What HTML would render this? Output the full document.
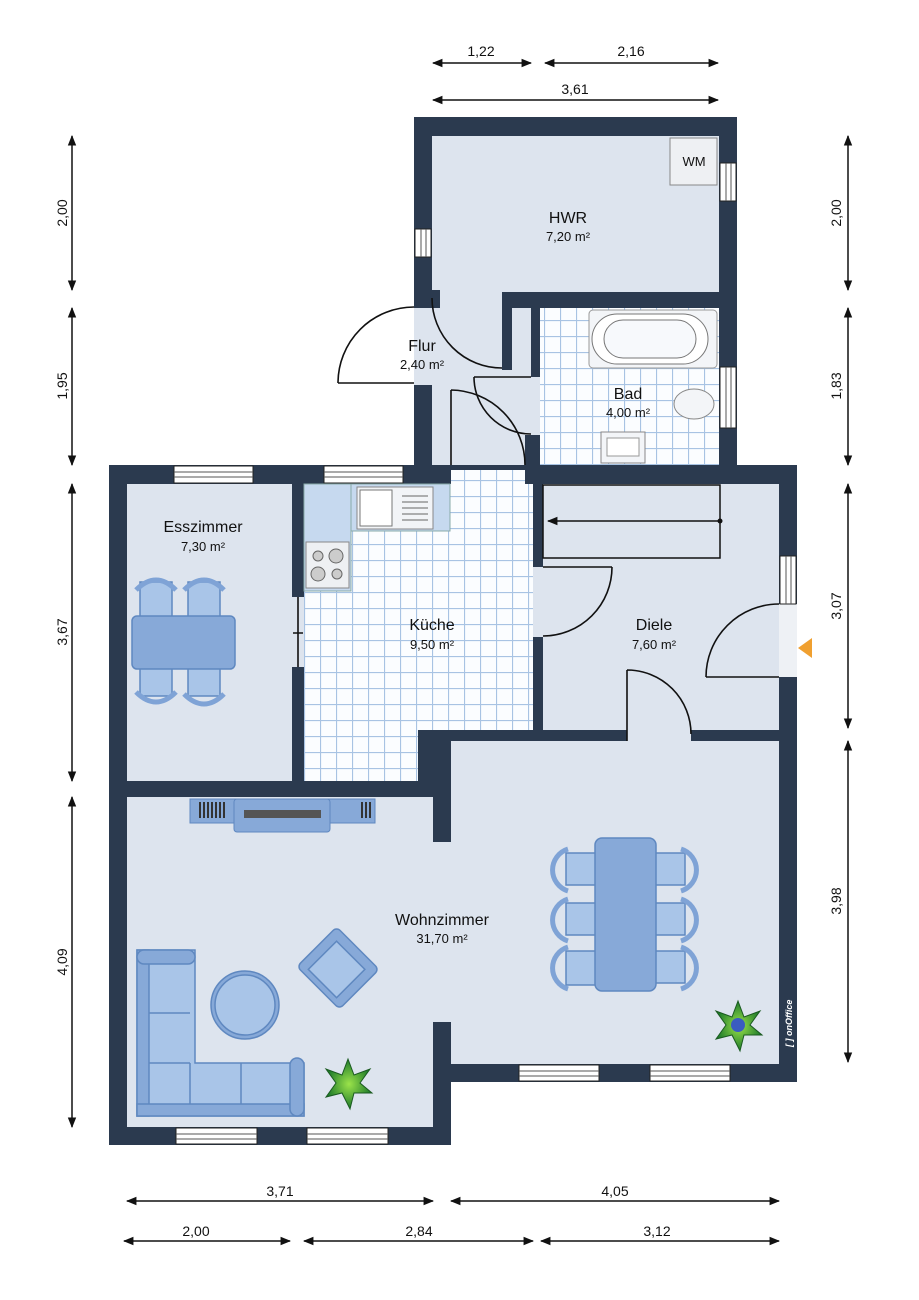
<!DOCTYPE html>
<html><head><meta charset="utf-8"><style>
html,body{margin:0;padding:0;background:#fff}
svg{display:block}
text{font-family:"Liberation Sans",sans-serif;fill:#111}
</style></head><body>
<svg width="919" height="1300" viewBox="0 0 919 1300" xmlns="http://www.w3.org/2000/svg">
<defs>
<pattern id="tile" width="16" height="16" patternUnits="userSpaceOnUse">
<rect width="16" height="16" fill="#fbfdff"/>
<path d="M0 0.5H16M0.5 0V16" stroke="#a8c3e3" stroke-width="1.2"/>
</pattern>
<marker id="ar" viewBox="0 0 10 10" refX="9" refY="5" markerWidth="7" markerHeight="7" orient="auto-start-reverse"><path d="M0 1L10 5L0 9z" fill="#111"/></marker>
<radialGradient id="plant" cx="50%" cy="50%" r="50%"><stop offset="0" stop-color="#9be34a"/><stop offset="1" stop-color="#1d7a2a"/></radialGradient>
</defs>

<path d="M414 117H737V465H797V1082H451V1145H109V465H414Z" fill="#2b3a4f"/>

<g fill="#dde4ee">
<rect x="432" y="136" width="287" height="156"/>
<rect x="432" y="290" width="99" height="175"/>
<rect x="414" y="308" width="20" height="77"/>
<rect x="127" y="484" width="165" height="297"/>
<rect x="543" y="484" width="236" height="246"/>
<rect x="533" y="567" width="10" height="70"/>
<rect x="779" y="604" width="18" height="73" fill="#eef1f5"/>
<rect x="127" y="797" width="306" height="330"/>
<rect x="451" y="741" width="328" height="323"/>
<rect x="433" y="842" width="18" height="180"/>
<rect x="627" y="728" width="64" height="14"/>
<rect x="292" y="597" width="12" height="70"/>
</g>
<rect x="414" y="290" width="26" height="18" fill="#2b3a4f"/>
<rect x="502" y="292" width="10" height="78" fill="#2b3a4f"/>
<rect x="502" y="292" width="235" height="16" fill="#2b3a4f"/>
<rect x="531" y="308" width="9" height="69" fill="#2b3a4f"/>
<rect x="525" y="435" width="15" height="30" fill="#2b3a4f"/>
<rect x="414" y="465" width="37" height="19" fill="#2b3a4f"/>
<rect x="525" y="465" width="18" height="19" fill="#2b3a4f"/>

<rect x="540" y="308" width="179" height="157" fill="url(#tile)"/>
<rect x="531" y="377" width="9" height="58" fill="#dde4ee"/>
<rect x="304" y="484" width="114" height="297" fill="url(#tile)"/>
<rect x="418" y="484" width="115" height="246" fill="url(#tile)"/>
<rect x="451" y="470" width="74" height="14" fill="url(#tile)"/>

<g fill="#fff" stroke="#222" stroke-width="1">
<rect x="174" y="466" width="79" height="17"/><rect x="324" y="466" width="79" height="17"/>
<rect x="176" y="1128" width="81" height="16"/><rect x="307" y="1128" width="81" height="16"/>
<rect x="519" y="1065" width="80" height="16"/><rect x="650" y="1065" width="80" height="16"/>
<rect x="415" y="229" width="16" height="28"/>
<rect x="720" y="163" width="16" height="38"/>
<rect x="720" y="367" width="16" height="61"/>
<rect x="780" y="556" width="16" height="48"/>
</g>
<g stroke="#555" stroke-width="1">
<path d="M174 472H253M174 477H253M324 472H403M324 477H403M176 1134H257M176 1139H257M307 1134H388M307 1139H388M519 1071H599M519 1076H599M650 1071H730M650 1076H730"/>
<path d="M421 229V257M426 229V257M726 163V201M731 163V201M726 367V428M731 367V428M786 556V604M791 556V604"/>
</g>

<g fill="none" stroke="#111" stroke-width="1.6">
<path d="M338 383H414M338 383A76 76 0 0 1 414 307"/>
<path d="M432 298A70 70 0 0 0 502 368"/>
<path d="M474 377H531M474 377A57 57 0 0 0 531 434"/>
<path d="M451 390V465M451 390A75 75 0 0 1 525 465"/>
<path d="M543 567H612M612 567A69 69 0 0 1 543 636"/>
<path d="M627 670V741M627 670A64 64 0 0 1 691 734"/>
<path d="M706 677H779M706 677A73 73 0 0 1 779 604"/>
<path d="M298 597V667M293 633H303"/>
</g>
<path d="M798 648L812 638V658Z" fill="#f0a030"/>

<rect x="670" y="138" width="47" height="47" fill="#eef0f3" stroke="#888"/>
<text x="694" y="166" font-size="13" text-anchor="middle">WM</text>

<rect x="589" y="310" width="128" height="58" rx="4" fill="#f3f5f8" stroke="#999"/>
<rect x="592" y="314" width="116" height="50" rx="25" fill="#fff" stroke="#777"/>
<rect x="604" y="320" width="92" height="38" rx="19" fill="#f7f9fc" stroke="#777"/>
<ellipse cx="694" cy="404" rx="20" ry="15" fill="#f3f5f8" stroke="#888"/>
<rect x="601" y="432" width="44" height="31" fill="#f3f5f8" stroke="#888"/>
<rect x="607" y="438" width="32" height="18" fill="#fff" stroke="#999"/>

<rect x="304" y="484" width="146" height="47" fill="#c6d9ef" stroke="#8aa"/>
<rect x="304" y="484" width="47" height="107" fill="#c6d9ef" stroke="#8aa"/>
<rect x="357" y="487" width="76" height="42" fill="#f2f4f7" stroke="#888"/>
<rect x="360" y="490" width="32" height="36" fill="#fff" stroke="#777"/>
<path d="M402 496H428M402 502H428M402 508H428M402 514H428M402 520H428" stroke="#666"/>
<rect x="306" y="542" width="43" height="46" fill="#eef0f3" stroke="#888"/>
<g fill="#ccc" stroke="#666"><circle cx="318" cy="556" r="5"/><circle cx="336" cy="556" r="7"/><circle cx="318" cy="574" r="7"/><circle cx="337" cy="574" r="5"/></g>

<rect x="543" y="485" width="177" height="73" fill="#dde4ee" stroke="#111" stroke-width="1.5"/>
<path d="M720 521H548" stroke="#111" stroke-width="1.5" marker-end="url(#ar)"/>
<circle cx="720" cy="521" r="2.5" fill="#111"/>

<g fill="#a9c5e8" stroke="#5f88c0" stroke-width="1.5">
<rect x="140" y="582" width="32" height="36"/><rect x="188" y="582" width="32" height="36"/>
<rect x="140" y="662" width="32" height="34"/><rect x="188" y="662" width="32" height="34"/>
</g>
<g fill="none" stroke="#7fa3d6" stroke-width="5">
<path d="M136 590Q156 570 176 590M184 590Q204 570 224 590"/>
<path d="M136 692Q156 712 176 692M184 694Q204 714 224 694"/>
</g>
<rect x="132" y="616" width="103" height="53" rx="5" fill="#87a9d8" stroke="#5f88c0" stroke-width="1.5"/>

<rect x="190" y="799" width="185" height="24" fill="#87a9d8" stroke="#5f88c0"/>
<rect x="234" y="799" width="96" height="33" rx="3" fill="#87a9d8" stroke="#5f88c0"/>
<rect x="244" y="810" width="77" height="8" fill="#555"/>
<path d="M200 802V818M204 802V818M208 802V818M212 802V818M216 802V818M220 802V818M224 802V818M362 802V818M366 802V818M370 802V818" stroke="#333" stroke-width="2"/>

<g fill="#a9c5e8" stroke="#5f88c0" stroke-width="1.5">
<path d="M137 950H195V1063H304V1116H137Z"/>
<rect x="137" y="950" width="12" height="166" fill="#87a9d8"/>
<rect x="137" y="950" width="58" height="14" rx="7" fill="#87a9d8"/>
<rect x="137" y="1104" width="167" height="12" fill="#87a9d8"/>
<rect x="290" y="1058" width="14" height="58" rx="7" fill="#87a9d8"/>
<path d="M149 1013H190M149 1063H190M190 1063V1104M241 1063V1104" fill="none"/>
<circle cx="245" cy="1005" r="34" fill="#87a9d8"/>
<circle cx="245" cy="1005" r="30"/>
<g transform="translate(338 968) rotate(45)">
<rect x="-30" y="-28" width="60" height="56" rx="5" fill="#87a9d8"/>
<rect x="-20" y="-18" width="40" height="40"/>
</g>
</g>

<g fill="#a9c5e8" stroke="#5f88c0" stroke-width="1.5">
<rect x="566" y="853" width="32" height="32"/><rect x="566" y="903" width="32" height="32"/><rect x="566" y="951" width="32" height="34"/>
<rect x="653" y="853" width="32" height="32"/><rect x="653" y="903" width="32" height="32"/><rect x="653" y="951" width="32" height="32"/>
</g>
<g fill="none" stroke="#7fa3d6" stroke-width="5">
<path d="M568 849A22 22 0 0 0 568 891M568 899A22 22 0 0 0 568 941M568 947A22 22 0 0 0 568 989"/>
<path d="M681 849A22 22 0 0 1 681 891M681 899A22 22 0 0 1 681 941M681 947A22 22 0 0 1 681 989"/>
</g>
<rect x="595" y="838" width="61" height="153" rx="7" fill="#87a9d8" stroke="#5f88c0" stroke-width="1.5"/>

<g transform="translate(348 1083)"><path d="M0 -24L6 -8L22 -14L12 0L24 10L6 10L2 26L-6 10L-22 14L-12 0L-22 -14L-6 -8Z" fill="url(#plant)" stroke="#1a5a20"/></g>
<g transform="translate(738 1025)"><path d="M0 -24L6 -8L22 -14L12 0L24 10L6 10L2 26L-6 10L-22 14L-12 0L-22 -14L-6 -8Z" fill="url(#plant)" stroke="#1a5a20"/><circle r="7" fill="#3a5cc0"/></g>
<text transform="translate(792 1047) rotate(-90)" font-size="9" font-style="italic" font-weight="bold" style="fill:#fff">[ ] onOffice</text>

<g font-size="16" text-anchor="middle">
<text x="568" y="223">HWR</text><text x="568" y="241" font-size="13">7,20 m²</text>
<text x="422" y="351">Flur</text><text x="422" y="369" font-size="13">2,40 m²</text>
<text x="628" y="399">Bad</text><text x="628" y="417" font-size="13">4,00 m²</text>
<text x="203" y="532">Esszimmer</text><text x="203" y="551" font-size="13">7,30 m²</text>
<text x="432" y="630">Küche</text><text x="432" y="649" font-size="13">9,50 m²</text>
<text x="654" y="630">Diele</text><text x="654" y="649" font-size="13">7,60 m²</text>
<text x="442" y="925">Wohnzimmer</text><text x="442" y="943" font-size="13">31,70 m²</text>
</g>

<g stroke="#111" stroke-width="1.5" fill="none" marker-start="url(#ar)" marker-end="url(#ar)">
<path d="M433 63H531"/><path d="M545 63H718"/><path d="M433 100H718"/>
<path d="M127 1201H433"/><path d="M451 1201H779"/><path d="M124 1241H290"/><path d="M304 1241H533"/><path d="M541 1241H779"/>
<path d="M72 136V290"/><path d="M72 308V465"/><path d="M72 484V781"/><path d="M72 797V1127"/>
<path d="M848 136V290"/><path d="M848 308V465"/><path d="M848 484V728"/><path d="M848 741V1062"/>
</g>
<g font-size="14" text-anchor="middle">
<text x="481" y="56">1,22</text><text x="631" y="56">2,16</text><text x="575" y="94">3,61</text>
<text x="280" y="1196">3,71</text><text x="615" y="1196">4,05</text>
<text x="196" y="1236">2,00</text><text x="419" y="1236">2,84</text><text x="657" y="1236">3,12</text>
<text transform="translate(67 213) rotate(-90)">2,00</text>
<text transform="translate(67 386) rotate(-90)">1,95</text>
<text transform="translate(67 632) rotate(-90)">3,67</text>
<text transform="translate(67 962) rotate(-90)">4,09</text>
<text transform="translate(841 213) rotate(-90)">2,00</text>
<text transform="translate(841 386) rotate(-90)">1,83</text>
<text transform="translate(841 606) rotate(-90)">3,07</text>
<text transform="translate(841 901) rotate(-90)">3,98</text>
</g>
</svg>
</body></html>
